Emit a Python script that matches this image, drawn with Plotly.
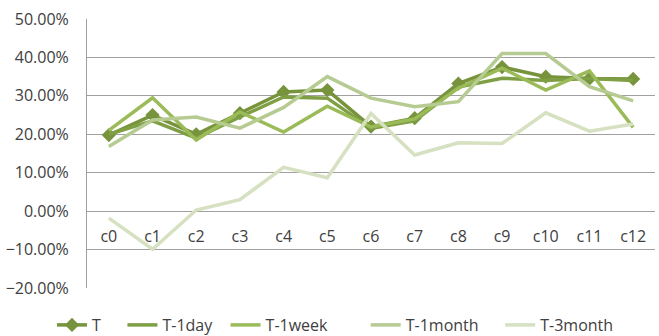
import plotly.graph_objects as go

categories = ["c0", "c1", "c2", "c3", "c4", "c5", "c6", "c7", "c8", "c9", "c10", "c11", "c12"]

t_now = [0.198, 0.250, 0.200, 0.255, 0.310, 0.315, 0.220, 0.242, 0.332, 0.375, 0.350, 0.345, 0.344]
t_1day = [0.200, 0.235, 0.190, 0.245, 0.297, 0.294, 0.215, 0.235, 0.323, 0.346, 0.340, 0.345, 0.340]
t_1week = [0.210, 0.295, 0.185, 0.258, 0.206, 0.273, 0.219, 0.240, 0.320, 0.372, 0.315, 0.365, 0.218]
t_1month = [0.168, 0.237, 0.245, 0.216, 0.270, 0.350, 0.294, 0.272, 0.285, 0.410, 0.410, 0.324, 0.287]
t_3month = [-0.018, -0.099, 0.003, 0.030, 0.114, 0.087, 0.254, 0.146, 0.178, 0.176, 0.256, 0.208, 0.227]

series_names = ["T", "T-1day", "T-1week", "T-1month", "T-3month"]
y_ticks = [-0.2, -0.1, 0.0, 0.1, 0.2, 0.3, 0.4, 0.5]

colors = ["#77933C", "#7F9F45", "#9BBB59", "#B6CB92", "#D5E1C0"]
values = [t_now, t_1day, t_1week, t_1month, t_3month]

# trailing non-breaking spaces widen the gap after each legend entry
legend_pads = [4, 2, 8, 4, 0]

fig = go.Figure()
for i, (name, vals, color) in enumerate(zip(series_names, values, colors)):
    with_markers = i == 0
    fig.add_trace(go.Scatter(
        x=categories, y=vals, name=name + "\u00a0" * legend_pads[i],
        mode="lines+markers" if with_markers else "lines",
        line=dict(color=color, width=3.5),
        marker=dict(symbol="diamond", size=11, color=color),
    ))

font_family = "Open Sans, sans-serif"
text_color = "#404040"

fig.update_layout(
    width=659, height=336,
    margin=dict(l=87, r=4, t=19, b=48, autoexpand=False),
    paper_bgcolor="white", plot_bgcolor="white",
    font=dict(family=font_family, size=16, color=text_color),
    showlegend=True,
    legend=dict(
        orientation="h",
        xref="container", x=52 / 659, xanchor="left",
        yref="container", y=(336 - 325) / 336, yanchor="middle",
        font=dict(size=16, color=text_color), itemwidth=30,
        traceorder="normal",
    ),
    xaxis=dict(
        type="category", range=[-0.5, 12.5],
        anchor="free", position=0.2 / 0.7,
        showgrid=False, showline=False, zeroline=False,
        ticks="", ticklabelstandoff=14,
        tickfont=dict(size=16, color=text_color),
    ),
    yaxis=dict(
        range=[-0.2, 0.5], tickvals=y_ticks, tickformat=".2%",
        showgrid=True, gridcolor="#A0A0A0", gridwidth=1,
        zeroline=False, showline=True, linecolor="#A0A0A0", linewidth=1,
        ticks="", ticklabelstandoff=14,
        tickfont=dict(size=16, color=text_color),
    ),
)

fig.write_html("out.html")
